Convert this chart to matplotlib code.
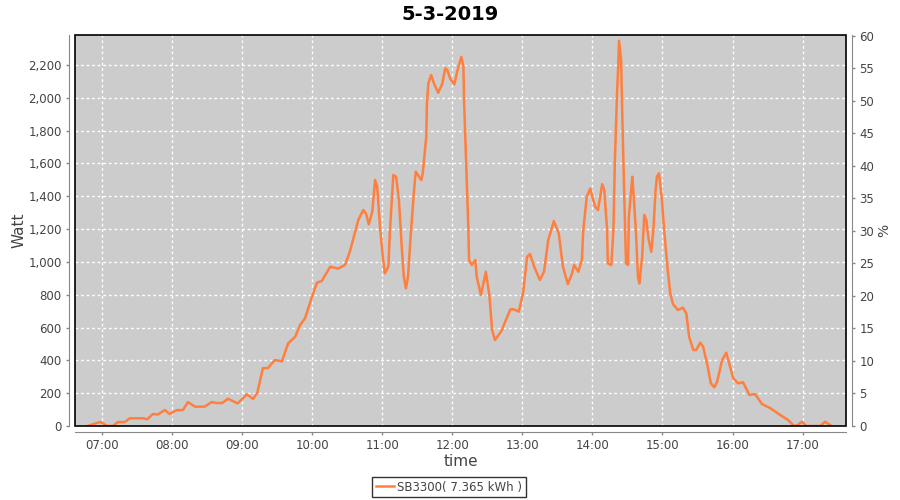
import numpy as np
import matplotlib
matplotlib.use("Agg")
import matplotlib.pyplot as plt
from matplotlib.ticker import FuncFormatter, MultipleLocator
from matplotlib.patches import Rectangle

# SB3300 power output, 5-3-2019 (time in decimal hours, power in Watt)
hours = [6.80, 6.98, 7.08, 7.16, 7.23, 7.33, 7.40, 7.59, 7.65, 7.73, 7.80, 7.90, 7.97,
         8.07, 8.16, 8.23, 8.33, 8.47, 8.57, 8.64, 8.72, 8.80, 8.94, 9.07, 9.16, 9.22,
         9.30, 9.37, 9.47, 9.57, 9.66, 9.76, 9.83, 9.90, 10.00, 10.07, 10.14, 10.26,
         10.37, 10.47, 10.54, 10.61, 10.66, 10.73, 10.77, 10.81, 10.86, 10.90, 10.93,
         10.97, 11.01, 11.04, 11.09, 11.11, 11.16, 11.20, 11.24, 11.28, 11.31, 11.34,
         11.37, 11.41, 11.46, 11.48, 11.51, 11.56, 11.58, 11.63, 11.64, 11.66, 11.70,
         11.74, 11.80, 11.86, 11.90, 11.93, 11.97, 12.03, 12.07, 12.13, 12.16, 12.17,
         12.20, 12.23, 12.24, 12.28, 12.33, 12.35, 12.41, 12.44, 12.48, 12.53, 12.57,
         12.61, 12.68, 12.71, 12.75, 12.83, 12.88, 12.95, 13.01, 13.07, 13.11, 13.17,
         13.25, 13.31, 13.37, 13.45, 13.52, 13.58, 13.65, 13.71, 13.74, 13.80, 13.85,
         13.87, 13.92, 13.97, 14.00, 14.04, 14.08, 14.11, 14.14, 14.17, 14.21, 14.22,
         14.27, 14.30, 14.32, 14.35, 14.37, 14.38, 14.41, 14.42, 14.45, 14.48, 14.51,
         14.52, 14.57, 14.58, 14.62, 14.65, 14.67, 14.71, 14.74, 14.77, 14.80, 14.84,
         14.87, 14.90, 14.92, 14.95, 14.99, 15.02, 15.07, 15.11, 15.15, 15.22, 15.29,
         15.34, 15.38, 15.44, 15.48, 15.54, 15.58, 15.64, 15.69, 15.74, 15.78, 15.85,
         15.91, 15.95, 16.01, 16.08, 16.15, 16.24, 16.32, 16.42, 16.54, 16.68, 16.79,
         16.88, 16.92, 16.99, 17.05, 17.25, 17.32, 17.41]
watt = [0, 25, 0, 0, 24, 24, 47, 47, 41, 73, 70, 97, 73,
        97, 97, 146, 118, 118, 146, 140, 140, 166, 138, 193, 165, 203,
        353, 353, 402, 394, 504, 544, 615, 656, 788, 873, 884, 971,
        959, 981, 1062, 1174, 1255, 1316, 1296, 1229, 1306, 1499, 1458,
        1214, 1032, 930, 971, 1174, 1530, 1519, 1377, 1093, 910, 839,
        910, 1174, 1458, 1550, 1530, 1499, 1540, 1763, 1967, 2088, 2139,
        2088, 2031, 2088, 2180, 2170, 2119, 2082, 2159, 2250, 2190, 1976,
        1591, 1214, 1012, 981, 1012, 910, 798, 859, 940, 798, 585,
        524, 565, 585, 630, 711, 711, 697, 809, 1032, 1048, 971,
        890, 940, 1133, 1249, 1174, 971, 865, 930, 981, 940, 1012,
        1194, 1397, 1448, 1397, 1336, 1316, 1397, 1474, 1438, 1194, 991,
        981, 1194, 1601, 2007, 2210, 2348, 2230, 2007, 1479, 991, 981,
        1275, 1519, 1458, 1194, 910, 869, 1032, 1286, 1255, 1143, 1062,
        1194, 1428, 1519, 1540, 1388, 1214, 971, 809, 743, 707, 721,
        687, 544, 463, 463, 508, 483, 372, 260, 236, 270, 402,
        447, 382, 291, 260, 266, 189, 195, 134, 108, 67, 37,
        0, 4, 26, 0, 0, 26, 0]

series_label = "SB3300( 7.365 kWh )"
title = "5-3-2019"

fig = plt.figure(figsize=(9, 5), dpi=100)
ax = fig.add_axes([75/900, 1-426/500, (846-75)/900, (426-35)/500])
ax.set_facecolor("#cccccc")

ax.plot(hours, watt, color="#ff7f3f", lw=1.8, label=series_label, zorder=3)

ax.set_xlim(6.619, 17.618)
ax.set_ylim(0, 2383)
ax.xaxis.set_major_locator(MultipleLocator(1))
ax.xaxis.set_major_formatter(FuncFormatter(lambda v, p: "%02d:00" % round(v)))
ax.yaxis.set_major_locator(MultipleLocator(200))
ax.yaxis.set_major_formatter(FuncFormatter(lambda v, p: "{:,.0f}".format(v)))
ax.grid(True, color="white", ls=(0, (2, 2)), lw=1)

# axis lines sit a bit away from the plot, gray like the original
for s in ["left", "bottom"]:
    ax.spines[s].set_position(("outward", 4))
    ax.spines[s].set_color("#888888")
for s in ["top", "right"]:
    ax.spines[s].set_visible(False)
ax.tick_params(colors="#888888", labelcolor="#444444", labelsize=8.5, length=2, width=1)
ax.add_patch(Rectangle((0, 0), 1, 1, transform=ax.transAxes, fill=False,
                       ec="black", lw=1.2, clip_on=False, zorder=5))

ax.set_ylabel("Watt", fontsize=11, color="#444444", labelpad=1)
ax.set_xlabel("time", fontsize=11, color="#444444", labelpad=1)

# second (empty) axis in percent
ax2 = ax.twinx()
ax2.set_ylim(0, 60.15)
ax2.yaxis.set_major_locator(MultipleLocator(5))
for s in ["left", "bottom", "top"]:
    ax2.spines[s].set_visible(False)
ax2.spines["right"].set_position(("outward", 4))
ax2.spines["right"].set_color("#888888")
ax2.tick_params(colors="#888888", labelcolor="#444444", labelsize=8.5, length=2, width=1)
ax2.set_ylabel("%", fontsize=10, color="#444444", labelpad=2)

fig.suptitle(title, x=0.5, y=0.99, fontsize=14, fontweight="bold")

leg = fig.legend(loc="center", bbox_to_anchor=(449/900, 1-487/500), fontsize=8.5,
                 frameon=True, fancybox=False, handlelength=1.5, handletextpad=0.3,
                 borderpad=0.3, borderaxespad=0)
leg.get_frame().set_edgecolor("black")
leg.get_frame().set_linewidth(1)
for t in leg.get_texts():
    t.set_color("#444444")

fig.savefig("out.png", dpi=100)
